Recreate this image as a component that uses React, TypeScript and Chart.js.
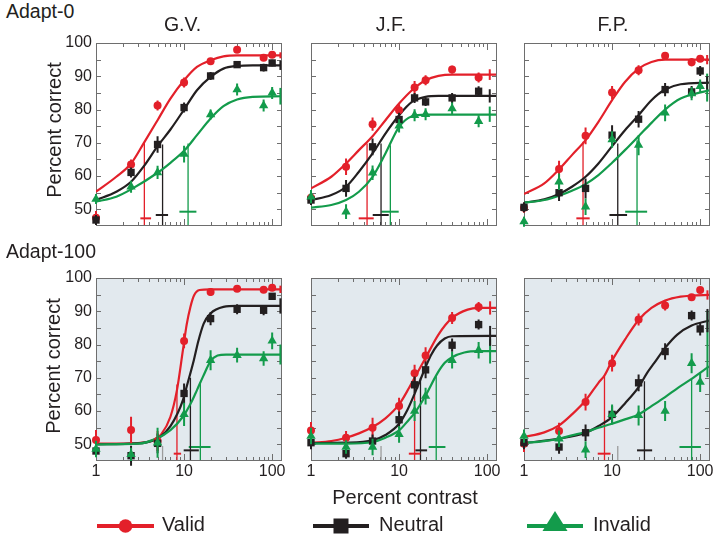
import React, { useEffect, useRef } from "react";
import { Chart, registerables } from "chart.js";

Chart.register(...registerables);

// ---------------- colours & fonts ----------------
const RED = "#e3202a";
const BLACK = "#231f20";
const GREEN = "#139b4b";
const PANEL_BG = "#e2e9ee";
const FRAME = "#6e6e6e";
const REF_GRAY = "#9c9c9c";
const TEXT = "#231f20";
const FONT = "'Liberation Sans', Arial, Helvetica, sans-serif";

// ---------------- labels & ticks ----------------
const rowLabels = ["Adapt-0", "Adapt-100"];
const observers = ["G.V.", "J.F.", "F.P."];
const legendLabels = ["Valid", "Neutral", "Invalid"];
const yAxisTitle = "Percent correct";
const xAxisTitle = "Percent contrast";
const yTickLabels = [50, 60, 70, 80, 90, 100];
const xTickLabels = [1, 10, 100];
const yMinorTicks = [50, 55, 60, 65, 70, 75, 80, 85, 90, 95];
const xMinorTicks = [2, 3, 4, 5, 6, 7, 8, 9, 10, 20, 30, 40, 50, 60, 70, 80, 90, 100];
const Y_MIN = 45.3;
const Y_MAX = 100;
const X_MIN = 1;
const X_MAX = 126;

// ---------------- contrast levels ----------------
const contrastsA = [1, 2.5, 5, 10, 20, 40, 80, 100];
const contrastsB = [1, 2.5, 5, 10, 15, 20, 40, 80];

// threshold-CI bar heights
const barYAdapt0 = [47.3, 48.3, 49.3];
const barYAdapt100 = [47.2, 48.2, 49.2];
const refTop = 49.5;

// ================= G.V. Adapt-0 =================
const gv0Valid = [47.5, 63.5, 81.2, 88.1, 94.5, 98, 95.6, 96.5];
const gv0ValidErr = [2, 1.5, 1.5, 1.5, 1, 0.8, 1, 1];
const gv0Neutral = [46.8, 61.1, 69.5, 80.6, 90.1, 93.5, 92.6, 94];
const gv0NeutralErr = [1.5, 1.5, 2.5, 1.5, 1.2, 1, 1.2, 1];
const gv0Invalid = [53.1, 56.8, 61.1, 66.6, 78.5, 86, 81.2, 85];
const gv0InvalidErr = [1.5, 1.8, 2, 2.5, 1.5, 1.8, 1.8, 1.8];
const gv0ValidCurve = [[1, 55.3], [1.7, 59.8], [2.5, 63.8], [3.5, 70], [5, 76.8], [7, 83.3], [10, 88.8], [14, 92.8], [20, 94.8], [28, 96], [40, 96.3], [126, 96.3]];
const gv0NeutralCurve = [[1, 52.8], [1.7, 55.3], [2.5, 58.3], [3.5, 63], [5, 69], [7, 74], [10, 80], [14, 85.8], [20, 89.8], [28, 92.3], [40, 93.1], [60, 93.3], [126, 93.3]];
const gv0InvalidCurve = [[1, 52.3], [1.7, 53.8], [2.5, 56], [5, 61], [7, 64], [10, 67.6], [14, 72.3], [20, 77.3], [28, 81], [40, 83], [60, 83.8], [126, 84]];
const gv0ThX = [3.54, 5.7, 11.1];
const gv0ThTop = [70, 69.5, 69.8];
const gv0ThLo = [3.19, 4.77, 8.85];
const gv0ThHi = [4.22, 6.58, 13.8];
const gv0AsymX = 124;
const gv0Asym = [96.3, 93.3, 84];
const gv0AsymErr = [0.9, 1.4, 2.5];

// ================= J.F. Adapt-0 =================
const jf0Valid = [53.5, 62.8, 75.6, 79.8, 86.6, 88.8, 92, 89.6];
const jf0ValidErr = [2, 2.5, 2, 1.8, 2, 1.5, 1.2, 1.5];
const jf0Neutral = [52.8, 56.3, 68.8, 77, 83.5, 82.3, 83.5, 85.5];
const jf0NeutralErr = [1.5, 2.5, 2.5, 2, 1.5, 1.2, 1.5, 1.5];
const jf0Invalid = [53.8, 49.3, 61, 75.1, 78.3, 78.6, 80.3, 76.5];
const jf0InvalidErr = [2, 2.2, 2.2, 2, 1.8, 1.8, 1.8, 1.8];
const jf0ValidCurve = [[1, 56.3], [1.7, 59.8], [2.5, 63.8], [3.5, 67.8], [5, 72], [7, 76.8], [10, 81.8], [14, 85.8], [20, 88.8], [28, 90.1], [40, 90.5], [126, 90.5]];
const jf0NeutralCurve = [[1, 52.8], [1.7, 54.3], [2.5, 56.8], [3.5, 61.3], [5, 66.8], [7, 72.8], [10, 78.3], [14, 82.3], [20, 83.8], [28, 84.1], [126, 84.1]];
const jf0InvalidCurve = [[1, 50.5], [1.7, 51.3], [2.5, 52.8], [3.5, 55.3], [5, 59.8], [7, 66.8], [10, 74.8], [14, 78], [20, 78.5], [126, 78.5]];
const jf0ThX = [4.33, 6.24, 7.96];
const jf0ThTop = [69.8, 69.8, 69.3];
const jf0ThLo = [3.48, 5.02, 6.3];
const jf0ThHi = [5.15, 7.63, 9.9];
const jf0AsymX = 107;
const jf0Asym = [90.5, 84.1, 78.6];
const jf0AsymErr = [1.6, 2, 2.3];

// ================= F.P. Adapt-0 =================
const fp0Valid = [50.5, 62.1, 72.1, 85.1, 91.8, 96.2, 94.2, 95.3];
const fp0ValidErr = [1.5, 2.5, 2.5, 2, 1.5, 1, 1.2, 1];
const fp0Neutral = [50.6, 55, 56.3, 72.3, 77.1, 86, 85.3, 91.6];
const fp0NeutralErr = [1.5, 2.5, 3, 3, 2.5, 2, 1.8, 1.5];
const fp0Invalid = [46.3, 58.3, 50.8, 71, 69.3, 79, 84.8, 87];
const fp0InvalidErr = [1.5, 2.5, 2.5, 2.5, 3, 2.5, 2, 2];
const fp0ValidCurve = [[1, 54.6], [1.7, 57.8], [2.5, 62], [3.5, 66.3], [5, 70.8], [7, 76.3], [10, 82.8], [14, 88.3], [20, 92.3], [28, 94.3], [40, 95], [126, 95]];
const fp0NeutralCurve = [[1, 52], [1.7, 53], [2.5, 54.6], [3.5, 56.8], [5, 59.8], [7, 63.8], [10, 69], [14, 73.8], [20, 78.3], [28, 82.8], [40, 86], [60, 87.6], [126, 88.1]];
const fp0InvalidCurve = [[1, 52], [1.7, 52.8], [2.5, 54.1], [3.5, 55.6], [5, 57.6], [7, 60.3], [10, 64], [14, 67.8], [20, 72], [28, 76], [40, 80], [60, 83.3], [126, 85.8]];
const fp0ThX = [4.68, 11.6, 19.2];
const fp0ThTop = [70.3, 69.8, 70.8];
const fp0ThLo = [3.93, 9.33, 14.1];
const fp0ThHi = [5.57, 14.8, 25];
const fp0AsymX = 120;
const fp0Asym = [95, 88, 86.6];
const fp0AsymErr = [1.4, 2, 4.2];

// ================= G.V. Adapt-100 =================
const gv1Valid = [51.3, 54.3, 51, 81.1, 95.8, 96.8, 96.5, 97.1];
const gv1ValidErr = [3, 4, 3, 2.2, 1.2, 1, 1, 1];
const gv1Neutral = [48, 46.6, 50.3, 65.3, 87.8, 90.6, 90.3, 94.5];
const gv1NeutralErr = [1.5, 3, 3, 3, 2, 1.5, 1.5, 1];
const gv1Invalid = [48.6, 47, 50.5, 59, 75.3, 76.8, 75.8, 81.1];
const gv1InvalidErr = [2.5, 2, 4.5, 3.5, 3, 2.2, 2.2, 2.5];
const gv1ValidCurve = [[1, 50.2], [3, 50.4], [4.5, 51.3], [5.5, 53], [7, 58.3], [8.3, 66.3], [9.7, 78.3], [10.7, 86], [11.8, 91.3], [13, 94.8], [15, 96.4], [20, 96.6], [126, 96.6]];
const gv1NeutralCurve = [[1, 50], [3, 50.3], [4.5, 51.2], [5.5, 52.5], [7, 55.5], [8.5, 59.5], [9.7, 63.3], [11, 68.5], [12.9, 75.3], [14.5, 81], [16.7, 86.3], [19.9, 89.3], [28, 91.3], [40, 91.6], [126, 91.6]];
const gv1InvalidCurve = [[1, 50], [3, 50.2], [4.9, 51.8], [7, 54.3], [9.7, 58.3], [12, 62.5], [14, 66.3], [16.5, 70.5], [20, 75], [24, 76.7], [30, 77], [126, 77]];
const gv1ThX = [8.3, 11.8, 15.3];
const gv1ThTop = [68, 70, 68.5];
const gv1ThLo = [7.63, 9.9, 11.3];
const gv1ThHi = [9.25, 14.7, 20];
const gv1AsymX = 124;
const gv1Asym = [96.6, 91.6, 77];
const gv1AsymErr = [1.1, 2.3, 3];
const gv1RefX = 5.7;

// ================= J.F. Adapt-100 =================
const jf1Valid = [54.2, 52, 55, 61.5, 71.4, 76.7, 88, 91.3];
const jf1ValidErr = [2.5, 2, 3, 2.5, 2.5, 2.5, 1.8, 1.5];
const jf1Neutral = [50.5, 47.2, 51, 57.4, 67.9, 72.4, 79.8, 86];
const jf1NeutralErr = [2, 1.5, 2, 2.5, 2.5, 2.5, 2, 1.5];
const jf1Invalid = [52.5, 49.2, 49.2, 53, 60, 64.5, 75.3, 78.3];
const jf1InvalidErr = [2.5, 2, 2.5, 2.5, 3, 2.5, 2.5, 2.5];
const jf1ValidCurve = [[1, 50.4], [1.7, 51], [2.5, 52], [3.5, 53.3], [5, 55.2], [7, 57.8], [10, 62], [13, 67], [15, 70], [20, 76], [28, 83], [40, 88], [60, 90.5], [80, 91], [126, 91]];
const jf1NeutralCurve = [[1, 50.4], [2.5, 50.5], [5, 51.2], [7, 52.8], [10, 56.2], [12.5, 60.5], [15, 65.2], [17.5, 69.5], [20, 73.2], [23, 76.8], [27, 79.7], [33, 81.8], [40, 82.5], [126, 82.6]];
const jf1InvalidCurve = [[1, 50.2], [2.5, 50.2], [5, 50.7], [7, 52], [10, 54.2], [13, 57.5], [15, 59.4], [20, 64.7], [27, 71.2], [33, 74.5], [40, 76.2], [55, 77.6], [80, 78], [126, 78]];
const jf1ThX = [15, 17.5, 26.4];
const jf1ThTop = [70, 70, 70.5];
const jf1ThLo = [12.9, 15.3, 21.7];
const jf1ThHi = [17.5, 20.8, 33.6];
const jf1AsymX = 108;
const jf1Asym = [91, 82.6, 78];
const jf1AsymErr = [2, 3, 3.7];
const jf1RefX = 6.24;

// ================= F.P. Adapt-100 =================
const fp1Valid = [50.2, 54, 62.7, 74.4, 87.5, 91.7, 94.2, 96.4];
const fp1ValidErr = [2.5, 2.5, 2.5, 2.5, 1.8, 1.5, 1, 1];
const fp1Neutral = [50.5, 49.2, 53.5, 59, 68.5, 77.9, 88.7, 84.7];
const fp1NeutralErr = [2, 2, 2.5, 2.5, 2.5, 2.5, 1.5, 2];
const fp1Invalid = [52.5, 51.7, 48.4, 59, 58.7, 60, 74.4, 68.7];
const fp1InvalidErr = [2, 2.5, 2.5, 3, 3, 3, 3, 3];
const fp1ValidCurve = [[1, 52.2], [1.7, 53.6], [2.5, 55.7], [3.5, 59], [5, 63.2], [7, 68.5], [8.2, 70.7], [10, 75.2], [14, 81.5], [20, 87.4], [28, 91], [40, 93.2], [60, 94.4], [80, 94.7], [126, 94.9]];
const fp1NeutralCurve = [[1, 50.4], [2.5, 51.7], [5, 53.5], [7, 55.5], [10, 58.2], [14, 62.3], [20, 67.2], [25, 71.5], [30, 74.4], [40, 79], [55, 83], [80, 85.7], [126, 87.2]];
const fp1InvalidCurve = [[1, 50.4], [1.7, 51], [2.5, 51.7], [3.5, 52.7], [5, 53.7], [7, 55], [10, 56.2], [14, 57.5], [20, 59], [28, 61.5], [40, 64.2], [56, 67], [80, 69.7], [126, 73.4]];
const fp1ThX = [8.2, 23.3, 80];
const fp1ThTop = [70.7, 69, 69.7];
const fp1ThLo = [6.87, 19.2, 58.2];
const fp1ThHi = [9.6, 28.5, 102];
const fp1AsymX = 121;
const fp1Asym = [94.9, 87.2, 80.2];
const fp1AsymErr = [1.4, 3.5, 10];
const fp1RefX = 11.6;

// ---------------- panel table (built from the arrays above) ----------------
type PanelDef = {
  row: number;
  col: number;
  contrasts: number[];
  values: number[][];
  errors: number[][];
  curves: number[][][];
  thX: number[];
  thTop: number[];
  thLo: number[];
  thHi: number[];
  barY: number[];
  asymX: number;
  asym: number[];
  asymErr: number[];
  refX: number | null;
};

const panels: PanelDef[] = [
  { row: 0, col: 0, contrasts: contrastsA, values: [gv0Valid, gv0Neutral, gv0Invalid], errors: [gv0ValidErr, gv0NeutralErr, gv0InvalidErr], curves: [gv0ValidCurve, gv0NeutralCurve, gv0InvalidCurve], thX: gv0ThX, thTop: gv0ThTop, thLo: gv0ThLo, thHi: gv0ThHi, barY: barYAdapt0, asymX: gv0AsymX, asym: gv0Asym, asymErr: gv0AsymErr, refX: null },
  { row: 0, col: 1, contrasts: contrastsB, values: [jf0Valid, jf0Neutral, jf0Invalid], errors: [jf0ValidErr, jf0NeutralErr, jf0InvalidErr], curves: [jf0ValidCurve, jf0NeutralCurve, jf0InvalidCurve], thX: jf0ThX, thTop: jf0ThTop, thLo: jf0ThLo, thHi: jf0ThHi, barY: barYAdapt0, asymX: jf0AsymX, asym: jf0Asym, asymErr: jf0AsymErr, refX: null },
  { row: 0, col: 2, contrasts: contrastsA, values: [fp0Valid, fp0Neutral, fp0Invalid], errors: [fp0ValidErr, fp0NeutralErr, fp0InvalidErr], curves: [fp0ValidCurve, fp0NeutralCurve, fp0InvalidCurve], thX: fp0ThX, thTop: fp0ThTop, thLo: fp0ThLo, thHi: fp0ThHi, barY: barYAdapt0, asymX: fp0AsymX, asym: fp0Asym, asymErr: fp0AsymErr, refX: null },
  { row: 1, col: 0, contrasts: contrastsA, values: [gv1Valid, gv1Neutral, gv1Invalid], errors: [gv1ValidErr, gv1NeutralErr, gv1InvalidErr], curves: [gv1ValidCurve, gv1NeutralCurve, gv1InvalidCurve], thX: gv1ThX, thTop: gv1ThTop, thLo: gv1ThLo, thHi: gv1ThHi, barY: barYAdapt100, asymX: gv1AsymX, asym: gv1Asym, asymErr: gv1AsymErr, refX: gv1RefX },
  { row: 1, col: 1, contrasts: contrastsB, values: [jf1Valid, jf1Neutral, jf1Invalid], errors: [jf1ValidErr, jf1NeutralErr, jf1InvalidErr], curves: [jf1ValidCurve, jf1NeutralCurve, jf1InvalidCurve], thX: jf1ThX, thTop: jf1ThTop, thLo: jf1ThLo, thHi: jf1ThHi, barY: barYAdapt100, asymX: jf1AsymX, asym: jf1Asym, asymErr: jf1AsymErr, refX: jf1RefX },
  { row: 1, col: 2, contrasts: contrastsA, values: [fp1Valid, fp1Neutral, fp1Invalid], errors: [fp1ValidErr, fp1NeutralErr, fp1InvalidErr], curves: [fp1ValidCurve, fp1NeutralCurve, fp1InvalidCurve], thX: fp1ThX, thTop: fp1ThTop, thLo: fp1ThLo, thHi: fp1ThHi, barY: barYAdapt100, asymX: fp1AsymX, asym: fp1Asym, asymErr: fp1AsymErr, refX: fp1RefX },
];

// ---------------- layout ----------------
const PANEL_LEFT = [96, 311, 524];
const PANEL_TOP = [43, 278];
const PANEL_W = 185;
const PANEL_H = 182;
const M = 16;
const Y_AXIS_W = 40;
const X_AXIS_H = 26;

const COLORS = [RED, BLACK, GREEN];
const STYLES = ["circle", "rect", "triangle"];
const RADII = [4, 5.2, 5.4];

function geometry(p: PanelDef) {
  const yW = p.col === 0 ? Y_AXIS_W : 0;
  const padL = p.col === 0 ? 0 : M;
  const xH = p.row === 1 ? X_AXIS_H : 0;
  const padB = p.row === 1 ? 0 : M;
  return {
    left: PANEL_LEFT[p.col] - yW - padL,
    top: PANEL_TOP[p.row] - M,
    w: yW + padL + PANEL_W + M,
    h: M + PANEL_H + xH + padB,
    padL,
    padB,
  };
}

function seg(x1: number, y1: number, x2: number, y2: number, color: string, width: number, order: number) {
  return {
    data: [{ x: x1, y: y1 }, { x: x2, y: y2 }],
    borderColor: color,
    borderWidth: width,
    borderCapStyle: "butt",
    pointRadius: 0,
    fill: false,
    order,
    clip: false,
  };
}

function decorPlugin(p: PanelDef) {
  return {
    id: "panelDecor",
    beforeDraw(chart: any) {
      if (p.row !== 1) return;
      const { ctx, chartArea } = chart;
      ctx.save();
      ctx.fillStyle = PANEL_BG;
      ctx.fillRect(chartArea.left, chartArea.top, chartArea.right - chartArea.left + 1, chartArea.bottom - chartArea.top + 1);
      ctx.restore();
    },
    beforeDatasetsDraw(chart: any) {
      const { ctx, chartArea } = chart;
      const { left, top, right, bottom } = chartArea;
      const xs = chart.scales.x;
      const ys = chart.scales.y;
      ctx.save();
      ctx.strokeStyle = FRAME;
      ctx.lineWidth = 1;
      ctx.strokeRect(left + 0.5, top + 0.5, right - left, bottom - top);
      ctx.beginPath();
      yMinorTicks.forEach((v) => {
        const py = Math.round(ys.getPixelForValue(v)) + 0.5;
        ctx.moveTo(left, py);
        ctx.lineTo(left + 5, py);
        ctx.moveTo(right + 1, py);
        ctx.lineTo(right - 4, py);
      });
      xMinorTicks.forEach((v) => {
        const px = Math.round(xs.getPixelForValue(v)) + 0.5;
        const len = v === 10 || v === 100 ? 7 : 4;
        ctx.moveTo(px, bottom + 1);
        ctx.lineTo(px, bottom + 1 - len);
        ctx.moveTo(px, top);
        ctx.lineTo(px, top + len);
      });
      ctx.stroke();
      ctx.restore();
    },
    beforeDatasetDraw(chart: any, args: any) {
      const ds = chart.data.datasets[args.index];
      if (!ds.withErrors) return;
      const { ctx } = chart;
      const ys = chart.scales.y;
      ctx.save();
      ctx.strokeStyle = ds.pointBackgroundColor;
      ctx.lineWidth = 2;
      ctx.beginPath();
      args.meta.data.forEach((el: any, j: number) => {
        const d = ds.data[j];
        ctx.moveTo(el.x, ys.getPixelForValue(d.y - d.e));
        ctx.lineTo(el.x, ys.getPixelForValue(d.y + d.e));
      });
      ctx.stroke();
      ctx.restore();
    },
  };
}

function buildConfig(p: PanelDef) {
  const g = geometry(p);
  const datasets: any[] = [];
  if (p.refX != null) datasets.push(seg(p.refX, Y_MIN, p.refX, refTop, REF_GRAY, 1.3, 120));
  for (let i = 0; i < 3; i++) {
    datasets.push(seg(p.thX[i], p.thTop[i], p.thX[i], Y_MIN, COLORS[i], 1.3, 110));
    datasets.push(seg(p.thLo[i], p.barY[i], p.thHi[i], p.barY[i], COLORS[i], 2, 110));
  }
  for (let i = 0; i < 3; i++) {
    datasets.push({
      data: p.curves[i].map(([x, y]) => ({ x, y })),
      borderColor: COLORS[i],
      borderWidth: 2.2,
      pointRadius: 0,
      fill: false,
      cubicInterpolationMode: "monotone",
      order: 70 - i,
    });
  }
  for (let i = 0; i < 3; i++) {
    datasets.push(seg(p.asymX, p.asym[i] - p.asymErr[i], p.asymX, p.asym[i] + p.asymErr[i], COLORS[i], 2, 65));
  }
  for (let i = 0; i < 3; i++) {
    const pts = p.values[i]
      .map((y, j) => ({ x: p.contrasts[j], y, e: p.errors[i][j] }))
      .filter((d) => d.y != null);
    datasets.push({
      data: pts,
      withErrors: true,
      showLine: false,
      borderColor: COLORS[i],
      pointBackgroundColor: COLORS[i],
      pointBorderColor: COLORS[i],
      pointBorderWidth: 0,
      pointStyle: STYLES[i],
      pointRadius: RADII[i],
      pointHoverRadius: RADII[i],
      order: 30 - i * 10,
      clip: false,
    });
  }

  const tickFont = { family: FONT, size: 16 };
  return {
    type: "line",
    data: { datasets },
    options: {
      responsive: false,
      animation: false,
      devicePixelRatio: 1,
      events: [],
      layout: { padding: { left: g.padL, right: M, top: M, bottom: g.padB } },
      plugins: { legend: { display: false }, tooltip: { enabled: false }, title: { display: false } },
      scales: {
        x: {
          type: "logarithmic",
          min: X_MIN,
          max: X_MAX,
          display: p.row === 1,
          position: "bottom",
          grid: { display: false, drawTicks: false },
          border: { display: false },
          ticks: { autoSkip: false, maxRotation: 0, minRotation: 0, padding: 2, font: tickFont, color: TEXT, callback: (v: any) => String(v) },
          afterBuildTicks: (s: any) => {
            s.ticks = xTickLabels.map((v) => ({ value: v }));
          },
          afterFit: (s: any) => {
            if (p.row === 1) s.height = X_AXIS_H;
          },
        },
        y: {
          type: "linear",
          min: Y_MIN,
          max: Y_MAX,
          display: p.col === 0,
          position: "left",
          grid: { display: false, drawTicks: false },
          border: { display: false },
          ticks: { padding: 4, font: tickFont, color: TEXT, callback: (v: any) => String(v) },
          afterBuildTicks: (s: any) => {
            s.ticks = yTickLabels.map((v) => ({ value: v }));
          },
          afterFit: (s: any) => {
            if (p.col === 0) s.width = Y_AXIS_W;
          },
        },
      },
    },
    plugins: [decorPlugin(p)],
  };
}

function Panel({ p }: { p: PanelDef }) {
  const ref = useRef<HTMLCanvasElement | null>(null);
  const g = geometry(p);
  useEffect(() => {
    if (!ref.current) return;
    const chart = new Chart(ref.current, buildConfig(p) as any);
    return () => chart.destroy();
  }, []);
  return (
    <canvas
      ref={ref}
      width={g.w}
      height={g.h}
      style={{ position: "absolute", left: g.left, top: g.top, width: g.w, height: g.h }}
    />
  );
}

function Txt({ x, y, size, center, children }: any) {
  return (
    <div
      style={{
        position: "absolute",
        left: x,
        top: y - size * 0.49,
        fontSize: size,
        lineHeight: 1,
        whiteSpace: "nowrap",
        color: TEXT,
        transform: center ? "translateX(-50%)" : undefined,
      }}
    >
      {children}
    </div>
  );
}

function RotTxt({ x, y, size, children }: any) {
  return (
    <div
      style={{
        position: "absolute",
        left: x,
        top: y,
        fontSize: size,
        lineHeight: 1,
        whiteSpace: "nowrap",
        color: TEXT,
        transform: "translate(-50%, -50%) rotate(-90deg)",
      }}
    >
      {children}
    </div>
  );
}

const observerX = [182.5, 391, 613];
const rowLabelY = [11.7, 251.5];
const yTitleX = [54, 53];
const yTitleY = [130, 366];

export default function App() {
  return (
    <div
      style={{
        position: "absolute",
        left: 0,
        top: 0,
        width: 719,
        height: 536,
        overflow: "hidden",
        background: "#ffffff",
        fontFamily: FONT,
      }}
    >
      {panels.map((p, i) => (
        <Panel key={i} p={p} />
      ))}
      {rowLabels.map((t, i) => (
        <Txt key={t} x={6} y={rowLabelY[i]} size={19.5}>
          {t}
        </Txt>
      ))}
      {observers.map((t, i) => (
        <Txt key={t} x={observerX[i]} y={24.7} size={19.5} center>
          {t}
        </Txt>
      ))}
      {[0, 1].map((r) => (
        <RotTxt key={r} x={yTitleX[r]} y={yTitleY[r]} size={20}>
          {yAxisTitle}
        </RotTxt>
      ))}
      <Txt x={405} y={497} size={20} center>
        {xAxisTitle}
      </Txt>
      <svg
        width={719}
        height={40}
        style={{ position: "absolute", left: 0, top: 505, overflow: "visible" }}
      >
        <line x1={97} x2={154} y1={21} y2={21} stroke={RED} strokeWidth={4} />
        <circle cx={125.5} cy={21} r={6.8} fill={RED} />
        <line x1={313} x2={369} y1={21} y2={21} stroke={BLACK} strokeWidth={4} />
        <rect x={333.5} y={13.5} width={15} height={15} fill={BLACK} />
        <line x1={527} x2={583} y1={21} y2={21} stroke={GREEN} strokeWidth={4} />
        <polygon points="555,6 567.5,26 542.5,26" fill={GREEN} />
      </svg>
      {legendLabels.map((t, i) => (
        <Txt key={t} x={[162, 379, 593][i]} y={523.3} size={20}>
          {t}
        </Txt>
      ))}
    </div>
  );
}
